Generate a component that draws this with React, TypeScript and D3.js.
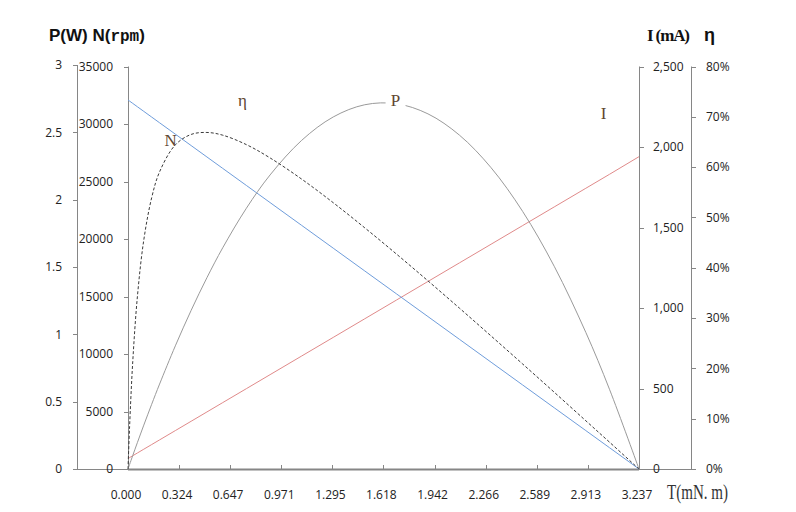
import React from 'react';
import * as d3 from 'd3';

// Torque (mN.m) sample points
const torque = [0, 0.01, 0.03, 0.06, 0.1, 0.15, 0.2, 0.3, 0.4, 0.5, 0.6, 0.75, 0.9, 1.1, 1.3, 1.5, 1.7, 1.9, 2.1, 2.3, 2.5, 2.7, 2.9, 3.05, 3.237];
// Speed N (rpm)
const speed = [32090, 31991, 31793, 31495, 31099, 30603, 30107, 29116, 28125, 27133, 26142, 24655, 23168, 21185, 19203, 17220, 15237, 13255, 11272, 9289, 7306, 5324, 3341, 1854, 0];
// Output power P (W)
const power = [0, 0.0335, 0.0999, 0.1979, 0.3257, 0.4807, 0.6306, 0.9147, 1.1781, 1.4207, 1.6426, 1.9364, 2.1835, 2.4403, 2.6142, 2.7049, 2.7126, 2.6373, 2.4788, 2.2373, 1.9127, 1.5053, 1.0146, 0.5922, 0];
// Current I (mA)
const current = [65, 70.8, 82.4, 99.7, 122.9, 151.8, 180.8, 238.6, 296.5, 354.4, 412.3, 499.1, 585.9, 701.7, 817.4, 933.2, 1049, 1164.7, 1280.5, 1396.2, 1512, 1627.8, 1743.5, 1830.3, 1940];
// Efficiency η
const efficiency = [0, 0.084, 0.2129, 0.3443, 0.4551, 0.5392, 0.5906, 0.6443, 0.665, 0.6689, 0.6635, 0.6447, 0.6183, 0.5762, 0.5293, 0.4793, 0.4274, 0.374, 0.3196, 0.2644, 0.2087, 0.1526, 0.0959, 0.0534, 0];

const xTicks = [0, 0.324, 0.647, 0.971, 1.295, 1.618, 1.942, 2.266, 2.589, 2.913, 3.237];
const pTicks = [0, 0.5, 1, 1.5, 2, 2.5, 3];
const nTicks = [0, 5000, 10000, 15000, 20000, 25000, 30000, 35000];
const iTicks = [0, 500, 1000, 1500, 2000, 2500];
const eTicks = [0, 0.1, 0.2, 0.3, 0.4, 0.5, 0.6, 0.7, 0.8];

const W = 796;
const H = 512;
const AXIS = '#868686';
const TICKFONT = "'Open Sans', 'Liberation Sans', sans-serif";
const SERIF = "'Liberation Serif', 'DejaVu Serif', serif";
const LABEL_COLOR = '#5e4630';

export default function App() {
  const base = 469;
  const x = d3.scaleLinear().domain([0, 3.237]).range([128, 639]);
  const yP = d3.scaleLinear().domain([0, 3]).range([base, 65]);
  const yN = d3.scaleLinear().domain([0, 35000]).range([base, 66.5]);
  const yI = d3.scaleLinear().domain([0, 2500]).range([base, 66.5]);
  const yE = d3.scaleLinear().domain([0, 0.8]).range([base, 66.5]);

  const idx = torque.map((_, i) => i);
  const mk = (ys: number[], y: d3.ScaleLinear<number, number>, curve: d3.CurveFactory) =>
    d3.line<number>().x((i) => x(torque[i])).y((i) => y(ys[i])).curve(curve)(idx) || '';

  const nPath = mk(speed, yN, d3.curveLinear);
  const iPath = mk(current, yI, d3.curveLinear);
  const pPath = mk(power, yP, d3.curveCatmullRom.alpha(0.5));
  const ePath = mk(efficiency, yE, d3.curveCatmullRom.alpha(0.5));

  const fmtI = d3.format(',');
  const fmtE = d3.format('.0%');

  const pLabelX = x(1.695);
  const pLabelY = yP(2.693);

  return (
    <svg width={W} height={H} style={{ position: 'absolute', left: 0, top: 0, background: '#fff' }}>
      {/* axis frame lines */}
      <line x1={73} x2={696} y1={base + 0.5} y2={base + 0.5} stroke={AXIS} strokeWidth={1} />
      <line x1={x(0)} x2={x(3.237)} y1={base + 0.5} y2={base + 0.5} stroke={AXIS} strokeWidth={2.2} />
      <line x1={77.5} x2={77.5} y1={yP(3)} y2={base} stroke={AXIS} />
      <line x1={128.5} x2={128.5} y1={yN(35000)} y2={base} stroke={AXIS} />
      <line x1={639.5} x2={639.5} y1={yI(2500)} y2={base} stroke={AXIS} />
      <line x1={691.5} x2={691.5} y1={yE(0.8)} y2={base} stroke={AXIS} />

      {/* P axis */}
      {pTicks.map((t) => (
        <g key={'p' + t}>
          <line x1={73} x2={77.5} y1={Math.round(yP(t)) + 0.5} y2={Math.round(yP(t)) + 0.5} stroke={AXIS} />
          <text x={62} y={yP(t)} dy="0.35em" textAnchor="end" fontFamily={TICKFONT} fontSize={12} fill="#222">
            {String(t)}
          </text>
        </g>
      ))}
      {/* N axis */}
      {nTicks.map((t) => (
        <g key={'n' + t}>
          <line x1={124} x2={128.5} y1={Math.round(yN(t)) + 0.5} y2={Math.round(yN(t)) + 0.5} stroke={AXIS} />
          <text x={113} y={yN(t)} dy="0.35em" textAnchor="end" fontFamily={TICKFONT} fontSize={12} fill="#222">
            {String(t)}
          </text>
        </g>
      ))}
      {/* I axis */}
      {iTicks.map((t) => (
        <g key={'i' + t}>
          <line x1={639.5} x2={644} y1={Math.round(yI(t)) + 0.5} y2={Math.round(yI(t)) + 0.5} stroke={AXIS} />
          <text x={653} y={yI(t)} dy="0.35em" textAnchor="start" fontFamily={TICKFONT} fontSize={12} fill="#222">
            {fmtI(t)}
          </text>
        </g>
      ))}
      {/* η axis */}
      {eTicks.map((t) => (
        <g key={'e' + t}>
          <line x1={691.5} x2={696} y1={Math.round(yE(t)) + 0.5} y2={Math.round(yE(t)) + 0.5} stroke={AXIS} />
          <text x={706} y={yE(t)} dy="0.35em" textAnchor="start" fontFamily={TICKFONT} fontSize={12} fill="#222">
            {fmtE(t)}
          </text>
        </g>
      ))}
      {/* X axis */}
      {xTicks.map((t) => (
        <g key={'x' + t}>
          <line x1={Math.round(x(t)) + 0.5} x2={Math.round(x(t)) + 0.5} y1={base - 4} y2={base} stroke={AXIS} />
          <text x={x(t) - 2} y={495} dy="0.35em" textAnchor="middle" fontFamily={TICKFONT} fontSize={12} fill="#222">
            {t.toFixed(3)}
          </text>
        </g>
      ))}

      {/* series */}
      <path d={iPath} fill="none" stroke="#e08a8a" strokeWidth={1} />
      <path d={nPath} fill="none" stroke="#6f9ddb" strokeWidth={1} />
      <path d={pPath} fill="none" stroke="#9a9a9a" strokeWidth={1} />
      <path d={ePath} fill="none" stroke="#3a3a3a" strokeWidth={1} strokeDasharray="3 2" />

      {/* series labels */}
      <text x={x(0.27)} y={yN(28100)} textAnchor="middle" fontFamily={SERIF} fontSize={17} fill={LABEL_COLOR}>N</text>
      <text x={x(0.725)} y={yE(0.7215)} textAnchor="middle" fontFamily={SERIF} fontSize={17} fill={LABEL_COLOR}>η</text>
      <rect x={pLabelX - 10} y={pLabelY - 14} width={20} height={17} fill="#fff" />
      <text x={pLabelX} y={pLabelY} textAnchor="middle" fontFamily={SERIF} fontSize={17} fill={LABEL_COLOR}>P</text>
      <text x={x(3.012)} y={yI(2173)} textAnchor="middle" fontFamily={SERIF} fontSize={17} fill={LABEL_COLOR}>I</text>

      {/* axis titles */}
      <text x={49} y={41} fontFamily="'Liberation Sans', Arial, sans-serif" fontWeight="bold" fontSize={17} fill="#111">
        P(W) N(<tspan fontFamily="'Liberation Mono', 'DejaVu Sans Mono', monospace" fontSize={16}>rpm</tspan>)
      </text>
      <text x={647} y={41} fontFamily={SERIF} fontWeight="bold" fontSize={17} fill="#111" textLength={43} lengthAdjust="spacing">
        I (mA)
      </text>
      <text x={704} y={41} fontFamily="'Liberation Sans', Arial, sans-serif" fontWeight="bold" fontSize={18} fill="#111">
        η
      </text>
      <text x={667} y={499} fontFamily={SERIF} fontSize={20} fill="#333" textLength={61} lengthAdjust="spacingAndGlyphs">
        T(mN. m)
      </text>
    </svg>
  );
}
